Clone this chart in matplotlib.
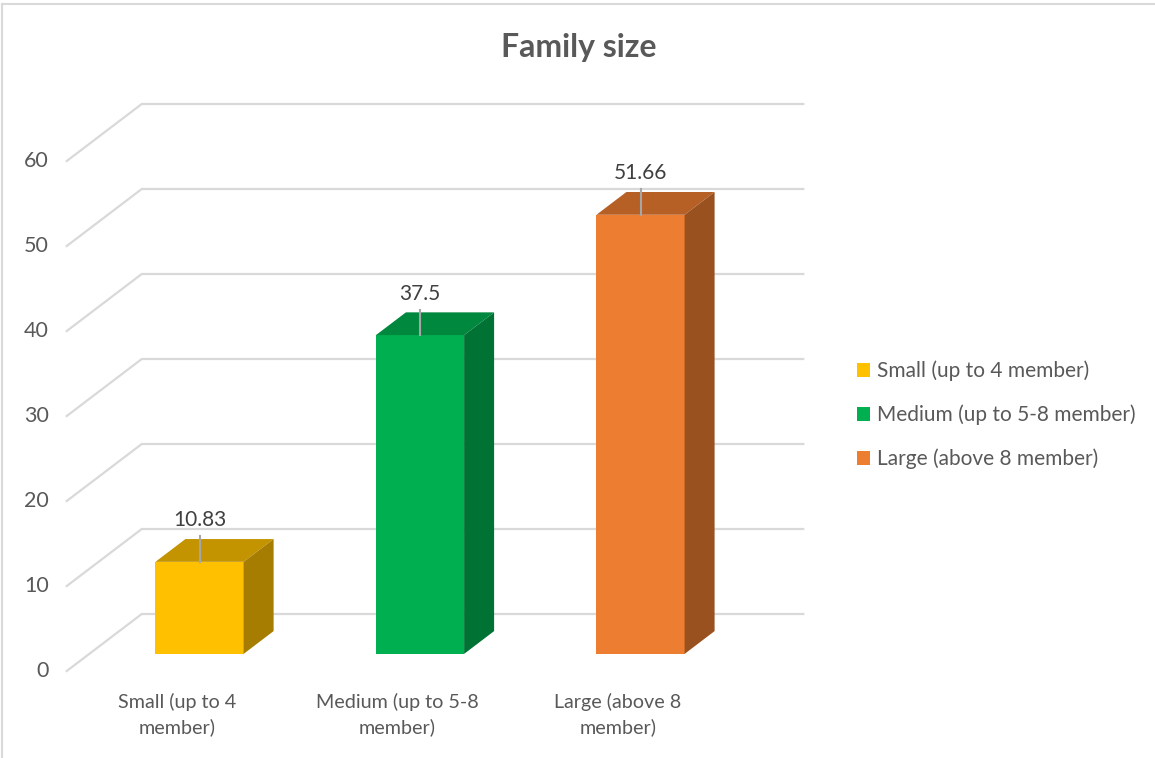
import matplotlib
matplotlib.use("Agg")
import matplotlib.pyplot as plt
from matplotlib.patches import Polygon, Patch
import matplotlib.colors as mcolors
import numpy as np

categories = ["Small (up to 4\nmember)", "Medium (up to 5-8\nmember)", "Large (above 8\nmember)"]
legend_labels = ["Small (up to 4 member)", "Medium (up to 5-8 member)", "Large (above 8 member)"]
values = [10.83, 37.5, 51.66]
colors = ["#FFC000", "#00B050", "#ED7D31"]
yticks = [0, 10, 20, 30, 40, 50, 60]

# pixel layout of the reference (front plane)
W, H = 1155, 758
X0_PX, XSTEP_PX = 177, 220.5
Y0_PX, YSTEP_PX = 671, 8.5
DX = 75 / XSTEP_PX        # depth offset in category units
DY = 57 / YSTEP_PX        # depth offset in value units
D_FRONT, D_BACK = 0.3, 0.7
BAR_W = 0.4
TXT = "#595959"
GRID = "#D9D9D9"

plt.rcParams['font.family'] = ['Lato', 'DejaVu Sans']

fig = plt.figure(figsize=(W / 100, H / 100), dpi=100)
ax = fig.add_axes([0, 0, 1, 1])
ax.set_xlim(-X0_PX / XSTEP_PX, (W - X0_PX) / XSTEP_PX)
ax.set_ylim((Y0_PX - H) / YSTEP_PX, Y0_PX / YSTEP_PX)
ax.axis('off')


def proj(x, v, d):
    return (x + d * DX, v + d * DY)


x = np.arange(len(values))
xl, xr = -0.5, len(values) - 0.5

# gridlines: left wall diagonals + back wall horizontals
for t in yticks:
    p0 = proj(xl, t, 0)
    p1 = proj(xl, t, 1)
    p2 = proj(xr, t, 1)
    ax.plot([p0[0], p1[0], p2[0]], [p0[1], p1[1], p2[1]], color=GRID, lw=1.6,
            solid_joinstyle='miter', zorder=1)
    ax.text(xl - 0.08, t, str(t), ha='right', va='center', fontsize=15.5, color=TXT)


def shade(c, f):
    r, g, b = mcolors.to_rgb(c)
    return (r * f, g * f, b * f)


# bars
for xi, v, c in zip(x, values, colors):
    left = xi - BAR_W / 2
    right = xi + BAR_W / 2
    fx, fy = proj(left, 0, D_FRONT)
    ax.bar(fx, v, width=BAR_W, bottom=fy, align='edge', color=c, zorder=3)
    top = [proj(left, v, D_FRONT), proj(right, v, D_FRONT),
           proj(right, v, D_BACK), proj(left, v, D_BACK)]
    side = [proj(right, 0, D_FRONT), proj(right, 0, D_BACK),
            proj(right, v, D_BACK), proj(right, v, D_FRONT)]
    ax.add_patch(Polygon(top, closed=True, color=shade(c, 0.77), lw=0, zorder=3))
    ax.add_patch(Polygon(side, closed=True, color=shade(c, 0.65), lw=0, zorder=3))
    # data label with leader line
    lx, ly = proj(xi, v, D_FRONT)
    ax.plot([lx, lx], [ly, ly + 3.0], color="#A6A6A6", lw=1.5, zorder=4)
    ax.text(lx, ly + 4.9, f"{v:g}", ha='center', va='center', fontsize=15,
            color="#404040", zorder=5)

# category labels
for xi, lab in zip(x, categories):
    ax.text(xi, -2.6, lab, ha='center', va='top', fontsize=14.2, color=TXT,
            linespacing=1.5)

fig.text(579 / W, 1 - 47 / H, "Family size", ha='center', va='center',
         fontsize=23, fontweight='bold', color=TXT)

handles = [Patch(facecolor=c, edgecolor='none') for c in colors]
leg = fig.legend(handles, legend_labels, loc='center left',
                 bbox_to_anchor=(838 / W, 1 - 415 / H), frameon=False,
                 fontsize=15, labelcolor=TXT, handlelength=0.65,
                 handleheight=0.65, handletextpad=0.3, labelspacing=1.12)

# chart border (top and left edges visible)
fig.add_artist(plt.Line2D([2 / W, 1], [1 - 4 / H, 1 - 4 / H], color="#D9D9D9", lw=1.5))
fig.add_artist(plt.Line2D([2 / W, 2 / W], [0, 1 - 4 / H], color="#D9D9D9", lw=1.5))

fig.savefig("out.png", dpi=100)
